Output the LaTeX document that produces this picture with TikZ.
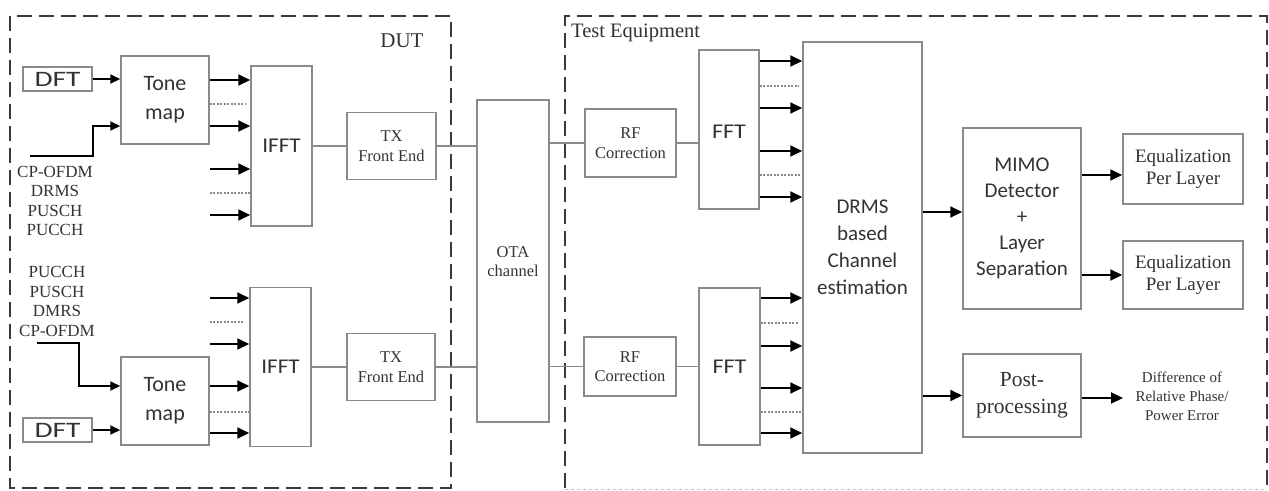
\documentclass[tikz,border=0pt]{standalone}
\usepackage{fontspec}
\setmainfont{Liberation Serif}
\newfontfamily\calfont{Carlito}
\newfontfamily\serf{Liberation Serif}
\usetikzlibrary{arrows.meta}
\definecolor{boxgray}{HTML}{8A8A8A}
\definecolor{framec}{HTML}{3A3A3A}
\definecolor{txt}{HTML}{333333}
\tikzset{
  box/.style={draw=boxgray, line width=1.5pt, inner sep=0pt, align=center, text=txt},
  sbox/.style={box, font=\calfont\fontsize{21}{27}\selectfont},
  rbox/.style={box, font=\serf\fontsize{16.5}{19.5}\selectfont},
  lbl/.style={inner sep=0pt, align=center, text=txt},
  arr/.style={draw=black, line width=2pt, -{Triangle[length=12pt,width=11pt]}},
  dotl/.style={draw=boxgray, line width=1.2pt, dash pattern=on 2pt off 1.5pt},
  link/.style={draw=boxgray, line width=1.2pt},
  frame/.style={draw=framec, line width=2.2pt, dash pattern=on 15pt off 7pt},
  inl/.style={draw=black, line width=2pt, -{Triangle[length=10pt,width=9pt]}}
}
\begin{document}
\begin{tikzpicture}[x=1pt,y=-1pt]
\fill[white] (0,0) rectangle (1269,490);
\useasboundingbox (0,0) rectangle (1269,490);

% frames
\draw[frame] (10,16) rectangle (451,488);
\draw[frame] (565,488) -- (565,16) -- (1267,16) -- (1267,488);
\draw[draw=boxgray!50, line width=1pt, dash pattern=on 3pt off 3pt] (565,489) -- (1267,489);
\node[lbl, font=\serf\fontsize{21}{24}\selectfont] (dut) at (402,41) {DUT};
\node[lbl, font=\serf\fontsize{20.5}{24}\selectfont, anchor=west] (te) at (571,33) {Test Equipment};

% ---------- DUT top chain
\node[sbox, minimum width=69pt, minimum height=24pt] (dft1) at (57.5,79) {\scalebox{1.4}[1.05]{DFT}};
\node[sbox, minimum width=88pt, minimum height=88pt, font=\calfont\fontsize{22}{29}\selectfont] (tone1) at (165,100) {Tone\\map};
\node[sbox, minimum width=61pt, minimum height=160pt] (ifft1) at (281.5,146) {\scalebox{1.1}[1]{IFFT}};
\node[rbox, minimum width=89pt, minimum height=67pt] (tx1) at (391.5,146) {TX\\Front End};

\draw[inl] (dft1.east) -- (tone1.west |- dft1.east);
\coordinate (in1) at (30,156);
\draw[inl] (in1) -| (93,126) -- (tone1.west |- 0,126);
\node[lbl, font=\serf\fontsize{17}{19.5}\selectfont] (lab1) at (55,201) {CP-OFDM\\DRMS\\PUSCH\\PUCCH};

\draw[arr] (tone1.east |- 0,80) -- (ifft1.west |- 0,80);
\draw[dotl] (tone1.east |- 0,104) -- ([xshift=-5pt]ifft1.west |- 0,104);
\draw[arr] (tone1.east |- 0,126) -- (ifft1.west |- 0,126);
\draw[arr] (tone1.east |- 0,169) -- (ifft1.west |- 0,169);
\draw[dotl] (tone1.east |- 0,193) -- (ifft1.west |- 0,193);
\draw[arr] (tone1.east |- 0,215) -- (ifft1.west |- 0,215);

% ---------- DUT bottom chain
\node[sbox, minimum width=69pt, minimum height=24pt] (dft2) at (57.5,430) {\scalebox{1.4}[1.05]{DFT}};
\node[sbox, minimum width=88pt, minimum height=88pt, font=\calfont\fontsize{22}{29}\selectfont] (tone2) at (165,401) {Tone\\map};
\node[sbox, minimum width=61pt, minimum height=159pt] (ifft2) at (280.5,367) {\scalebox{1.1}[1]{IFFT}};
\node[rbox, minimum width=88pt, minimum height=67pt] (tx2) at (391,367) {TX\\Front End};

\draw[inl] (dft2.east) -- (tone2.west |- dft2.east);
\coordinate (in2) at (37,343);
\draw[inl] (in2) -| (79,386) -- (tone2.west |- 0,386);
\node[lbl, font=\serf\fontsize{17}{19.5}\selectfont] (lab2) at (57,301.5) {PUCCH\\PUSCH\\DMRS\\CP-OFDM};

\draw[arr] (tone2.east |- 0,298) -- (ifft2.west |- 0,298);
\draw[dotl] (tone2.east |- 0,322) -- ([xshift=-6pt]ifft2.west |- 0,322);
\draw[arr] (tone2.east |- 0,344) -- (ifft2.west |- 0,344);
\draw[arr] (tone2.east |- 0,386) -- (ifft2.west |- 0,386);
\draw[dotl] (tone2.east |- 0,412) -- (ifft2.west |- 0,412);
\draw[arr] (tone2.east |- 0,433) -- (ifft2.west |- 0,433);

% ---------- OTA
\node[rbox, minimum width=72pt, minimum height=322pt] (ota) at (513,261) {};
\node[lbl, font=\serf\fontsize{16.5}{19}\selectfont] (otat) at (513,262) {OTA\\channel};

\draw[link] (ifft1) -- (tx1);
\draw[link] (ifft2) -- (tx2);
\draw[link] (tx1.east) -- (tx1.east -| ota.west);
\draw[link] (tx2.east) -- (tx2.east -| ota.west);

% ---------- Test equipment
\node[rbox, minimum width=91pt, minimum height=68pt] (rf1) at (630.5,143) {RF\\Correction};
\node[sbox, minimum width=60pt, minimum height=159pt] (fft1) at (729,129.5) {};
\node[lbl, font=\calfont\fontsize{21}{27}\selectfont] (fft1t) at (729,132) {\scalebox{1.15}[1]{FFT}};
\node[rbox, minimum width=92pt, minimum height=59pt] (rf2) at (630,366.5) {RF\\Correction};
\node[sbox, minimum width=61pt, minimum height=157pt] (fft2) at (729.5,366.5) {\scalebox{1.15}[1]{FFT}};
\node[sbox, minimum width=119pt, minimum height=411pt] (drms) at (862.5,247.5) {DRMS\\based\\Channel\\estimation};

\draw[link] (ota.east |- rf1) -- (rf1.west);
\draw[link] (ota.east |- rf2) -- (rf2.west);
\draw[link] (rf1.east) -- (rf1.east -| fft1.west);
\draw[link] (rf2.east) -- (rf2.east -| fft2.west);

\draw[arr] (fft1.east |- 0,61) -- (drms.west |- 0,61);
\draw[dotl] (fft1.east |- 0,86) -- ([xshift=-3pt]drms.west |- 0,86);
\draw[arr] (fft1.east |- 0,108) -- (drms.west |- 0,108);
\draw[arr] (fft1.east |- 0,151) -- (drms.west |- 0,151);
\draw[dotl] (fft1.east |- 0,175) -- ([xshift=-1pt]drms.west |- 0,175);
\draw[arr] (fft1.east |- 0,197) -- (drms.west |- 0,197);

\draw[arr] (fft2.east |- 0,298) -- (drms.west |- 0,298);
\draw[dotl] (fft2.east |- 0,323) -- ([xshift=-3pt]drms.west |- 0,323);
\draw[arr] (fft2.east |- 0,346) -- (drms.west |- 0,346);
\draw[arr] (fft2.east |- 0,388) -- (drms.west |- 0,388);
\draw[dotl] (fft2.east |- 0,412) -- (drms.west |- 0,412);
\draw[arr] (fft2.east |- 0,433) -- (drms.west |- 0,433);

\node[sbox, minimum width=118pt, minimum height=181pt, font=\calfont\fontsize{21}{26}\selectfont] (mimo) at (1022,218.5) {MIMO\\Detector\\+\\Layer\\Separation};
\node[rbox, minimum width=120pt, minimum height=70pt, font=\serf\fontsize{19}{22}\selectfont] (eq1) at (1183,169) {Equalization\\Per Layer};
\node[rbox, minimum width=120pt, minimum height=68pt, font=\serf\fontsize{19}{22}\selectfont] (eq2) at (1183,275) {Equalization\\Per Layer};
\node[rbox, minimum width=118pt, minimum height=83pt, font=\serf\fontsize{21.5}{27}\selectfont] (post) at (1022,395.5) {Post-\\processing};
\node[lbl, font=\serf\fontsize{15}{19}\selectfont] (diff) at (1182,396) {Difference of\\Relative Phase/\\Power Error};
\coordinate (diffin) at (1123,398);

\draw[arr] (drms.east |- 0,212) -- (mimo.west |- 0,212);
\draw[arr] (drms.east |- post.west) -- (post.west);
\draw[arr] (mimo.east |- 0,175) -- (eq1.west |- 0,175);
\draw[arr] (mimo.east |- eq2.west) -- (eq2.west);
\draw[arr] (post.east |- diffin) -- (diffin);
\end{tikzpicture}
\end{document}
